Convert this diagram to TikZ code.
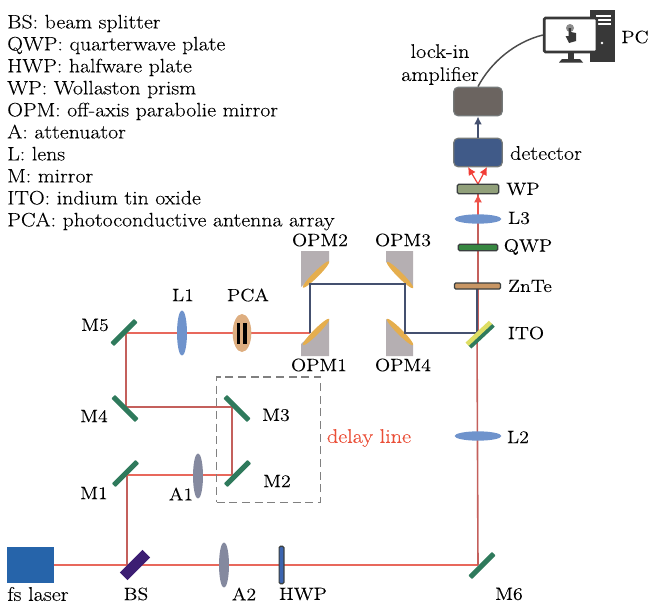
\documentclass[tikz,border=0pt]{standalone}
\usepackage{fontspec}
\setmainfont{Latin Modern Roman}[FakeStretch=1.12,FakeBold=0.15]
\usetikzlibrary{arrows.meta,shapes.geometric}
\definecolor{beamred}{HTML}{E8685C}
\definecolor{beamdark}{HTML}{C4605C}
\definecolor{navyb}{HTML}{44506F}
\definecolor{mirrorg}{HTML}{2F7A5C}
\definecolor{lensb}{HTML}{6F93CC}
\definecolor{lensg}{HTML}{84899F}
\definecolor{edgeb}{HTML}{3A3F3F}
\definecolor{oggrey}{HTML}{B5AFB2}
\definecolor{ogold}{HTML}{E5AE4E}
\definecolor{laserb}{HTML}{2664AA}
\definecolor{detb}{HTML}{405A88}
\definecolor{lockg}{HTML}{6B6460}
\definecolor{bsv}{HTML}{3C1E73}
\definecolor{pcat}{HTML}{DEAE80}
\definecolor{hwpb}{HTML}{3C64AF}
\definecolor{itoy}{HTML}{DEDE64}
\definecolor{zntet}{HTML}{C89664}
\definecolor{qwpg}{HTML}{378741}
\definecolor{wpg}{HTML}{91A07A}
\definecolor{delayr}{HTML}{EA4F38}
\tikzset{
  lbl/.style={inner sep=0pt,font=\fontsize{13.3pt}{16pt}\selectfont,text=black},
  word/.style={lbl,font=\fontsize{14.8pt}{17pt}\selectfont},
  beam/.style={draw=beamred,line width=1.3pt},
  beamv/.style={draw=beamdark,line width=1.2pt},
  thz/.style={draw=navyb,line width=1.3pt},
  mirrorbox/.style={fill=mirrorg,draw=none,inner sep=0pt,minimum width=25pt,minimum height=3.8pt,rounded corners=0.5pt},
  vlens/.style={fill=#1,draw=none,inner sep=0pt,shape=ellipse,minimum width=7.5pt,minimum height=34pt},
  hlens/.style={fill=#1,draw=none,inner sep=0pt,shape=ellipse,minimum width=35pt,minimum height=7pt},
  plate/.style={fill=#1,draw=edgeb,line width=0.9pt,rounded corners=1pt,inner sep=0pt},
  devbox/.style={fill=#1,draw=edgeb!70,line width=0.9pt,rounded corners=3.5pt,inner sep=0pt,minimum width=36.5pt,minimum height=21.5pt},
  ogm/.style={fill=ogold,draw=none,shape=ellipse,inner sep=0pt,minimum width=28pt,minimum height=4.2pt},
  ogb/.style={fill=oggrey,draw=none},
  arr/.style={-{Latex[length=6pt,width=6pt]}},
}
\begin{document}
\begin{tikzpicture}[x=0.75pt,y=-0.75pt]
\useasboundingbox (0,0) rectangle (651,604);
% legend
\node[lbl,anchor=north west,align=left,font=\fontsize{14.6pt}{16.5pt}\selectfont] (legend) at (7,14.5) {BS: beam splitter\\QWP: quarterwave plate\\HWP: halfware plate\\WP: Wollaston prism\\OPM: off-axis parabolie mirror\\A: attenuator\\L: lens\\M: mirror\\ITO: indium tin oxide\\PCA: photoconductive antenna array};
% junctions
\coordinate (jBS) at (127,565);
\coordinate (jM1) at (127,475);
\coordinate (jM2) at (232,475);
\coordinate (jM3) at (232,407);
\coordinate (jM4) at (126,407);
\coordinate (jM5) at (126,333);
\coordinate (jO1) at (310,333);
\coordinate (jO2) at (310,284);
\coordinate (jO3) at (405,284);
\coordinate (jO4) at (405,333);
\coordinate (jITO) at (477,333);
\coordinate (jM6) at (478,565);
\coordinate (jV) at (478,184);
\coordinate (jZ) at (477,286);
\coordinate (jL) at (478,222);
\coordinate (jVa) at (478,333);
\coordinate (jDl) at (468,167);
\coordinate (jDr) at (487,167);
% devices for beams
\node[fill=laserb,inner sep=0pt,minimum width=35.5pt,minimum height=27pt] (laser) at (30.5,565) {};
\node[inner sep=0pt,minimum width=31.5pt,minimum height=7.5pt] (wp) at (478,189) {};
\node[devbox=detb] (det) at (478,152.5) {};
\node[devbox=lockg] (lock) at (478,101.5) {};
% beams
\draw[beam] (laser.east) -- (jM6);
\draw[beamv] (jBS) -- (jM1);
\draw[beam] (jM1) -- (jM2);
\draw[beamv] (jM2) -- (jM3);
\draw[beamv,line width=1pt] (jM3) -- (jM4);
\draw[beamv] (jM4) -- (jM5);
\draw[beam] (jM5) -- (jO1);
\draw[beamv] (jM6) -- (jITO);
\draw[beamv] (jVa) -- (jV);
\draw[thz] (jITO) -- (jZ);
\draw[beamred!80!red,line width=1pt,arr] (jL) -- (wp.south);
\draw[beamred!60!red,line width=0.9pt,arr] (jV) -- (jDl);
\draw[beamred!60!red,line width=0.9pt,arr] (jV) -- (jDr);
\draw[navyb,line width=1.2pt,arr] (det.north) -- (lock.south);
% optics
\node[rotate=45,fill=bsv,inner sep=0pt,minimum width=24pt,minimum height=8pt] (BS) at (135,565) {};
\node[mirrorbox,rotate=45] (M1) at (125.5,473.5) {};
\node[mirrorbox,rotate=45] (M2) at (237.5,473.5) {};
\node[mirrorbox,rotate=-45] (M3) at (237,408.5) {};
\node[mirrorbox,rotate=-45] (M4) at (125,408.5) {};
\node[mirrorbox,rotate=45] (M5) at (124,332.5) {};
\node[mirrorbox,rotate=45] (M6) at (482,565.5) {};
\node[vlens=lensg] (A1) at (198,476) {};
\node[vlens=lensg] (A2) at (224,565) {};
\node[vlens=lensb] (L1) at (182,333) {};
\node[hlens=lensb] (L2) at (478,436) {};
\node[hlens=lensb] (L3) at (478,219) {};
\node[fill=pcat,shape=ellipse,inner sep=0pt,minimum width=14pt,minimum height=28.5pt] (PCA) at (242,333) {};
\fill[black] (236.8,323) rectangle (240,344);
\fill[black] (243.3,323) rectangle (246.8,344);
\node[plate=hwpb,minimum width=3.6pt,minimum height=28pt] (HWP) at (281.5,565) {};
% OPM bodies
\path[ogb] (301,251) -- (329,251) -- (329,262) -- (301,287) -- cycle;
\path[ogb] (386,251) -- (413,251) -- (413,287) -- (386,262) -- cycle;
\path[ogb] (329,319) -- (329,356) -- (301,356) -- (301,344) -- cycle;
\path[ogb] (386,319) -- (413,345) -- (413,356) -- (386,356) -- cycle;
\node[ogm,rotate=45] (OPM2) at (316,274.5) {};
\node[ogm,rotate=-45] (OPM3) at (400,275) {};
\node[ogm,rotate=45] (OPM1) at (316,332) {};
\node[ogm,rotate=-45] (OPM4) at (400,332) {};
\draw[thz] (jO1) -- (jO2) -- (jO3) -- (jO4) -- (jITO);
% ITO
\node[rotate=43,fill=mirrorg,inner sep=0pt,minimum width=24pt,minimum height=3.4pt] (ITOg) at (481.5,336) {};
\node[rotate=43,fill=itoy,inner sep=0pt,minimum width=24pt,minimum height=3.4pt] (ITOy) at (478.8,333.3) {};
% plates
\node[plate=zntet,minimum width=34.5pt,minimum height=4.5pt] (ZnTe) at (477.5,286) {};
\node[plate=qwpg,minimum width=29.5pt,minimum height=4.8pt] (QWP) at (478,247.5) {};
\node[plate=wpg,minimum width=31pt,minimum height=7pt] (WPb) at (478,189) {};
% PC icon
\fill[black!78] (590,10) rectangle (615,62);
\fill[white] (596,15) rectangle (611,16.5);
\fill[white] (596,19) rectangle (611,20.5);
\fill[white] (596,23) rectangle (611,24.5);
\fill[white] (602,43) circle (1pt);
\node[fill=white,draw=black!78,line width=2pt,rounded corners=1pt,inner sep=0pt,minimum width=39.5pt,minimum height=25.5pt] (mon) at (570.5,35) {};
\fill[black!78] (568,53) rectangle (574,60);
\fill[black!78] (559,62.5) -- (562,59) -- (580,59) -- (583,62.5) -- cycle;
\fill[black!45] (570,28) circle (3pt);
\fill[black!78] (568.5,28) -- (571,28) -- (571,32) -- (576,33) -- (576,41) -- (569,43) -- (565.5,36) -- (568.5,36) -- cycle;
\draw[black!70,line width=1.1pt] (lock.north) .. controls (491,62) and (515,42) .. (mon.west);
% dashed box
\node[draw=black!50,line width=1pt,dash pattern=on 6pt off 3.5pt,inner sep=0pt,minimum width=78pt,minimum height=94pt] (delaybox) at (268.5,439.5) {};
% labels
\node[lbl] (tL1) at (183,295) {L1};
\node[lbl] (tPCA) at (248,295) {PCA};
\node[lbl] (tM5) at (95,325) {M5};
\node[lbl] (tM4) at (94,416) {M4};
\node[lbl] (tM3) at (276,415) {M3};
\node[lbl] (tM2) at (277,481) {M2};
\node[lbl] (tM1) at (94,493) {M1};
\node[lbl] (tA1) at (181,494) {A1};
\node[word] (tfs) at (38,594) {fs laser};
\node[lbl] (tBS) at (136,594) {BS};
\node[lbl] (tA2) at (244,594) {A2};
\node[lbl] (tHWP) at (303,594) {HWP};
\node[lbl] (tM6) at (509,594) {M6};
\node[lbl] (tO2) at (320,240) {OPM2};
\node[lbl] (tO3) at (403,240) {OPM3};
\node[lbl] (tO1) at (319,365) {OPM1};
\node[lbl] (tO4) at (403,365) {OPM4};
\node[lbl] (tITO) at (526,333) {ITO};
\node[lbl] (tL2) at (518,437) {L2};
\node[lbl] (tZn) at (530,286) {ZnTe};
\node[lbl] (tQ) at (528,247) {QWP};
\node[lbl] (tL3) at (519,218) {L3};
\node[lbl] (tWP) at (523,189) {WP};
\node[word] (tdet) at (546,153) {detector};
\node[word,align=center,font=\fontsize{14.8pt}{17.3pt}\selectfont] (tlock) at (440,64.5) {lock-in\\amplifier};
\node[lbl] (tPC) at (635,37) {PC};
\node[word,text=delayr] (tdelay) at (369,438) {delay line};
\end{tikzpicture}
\end{document}
